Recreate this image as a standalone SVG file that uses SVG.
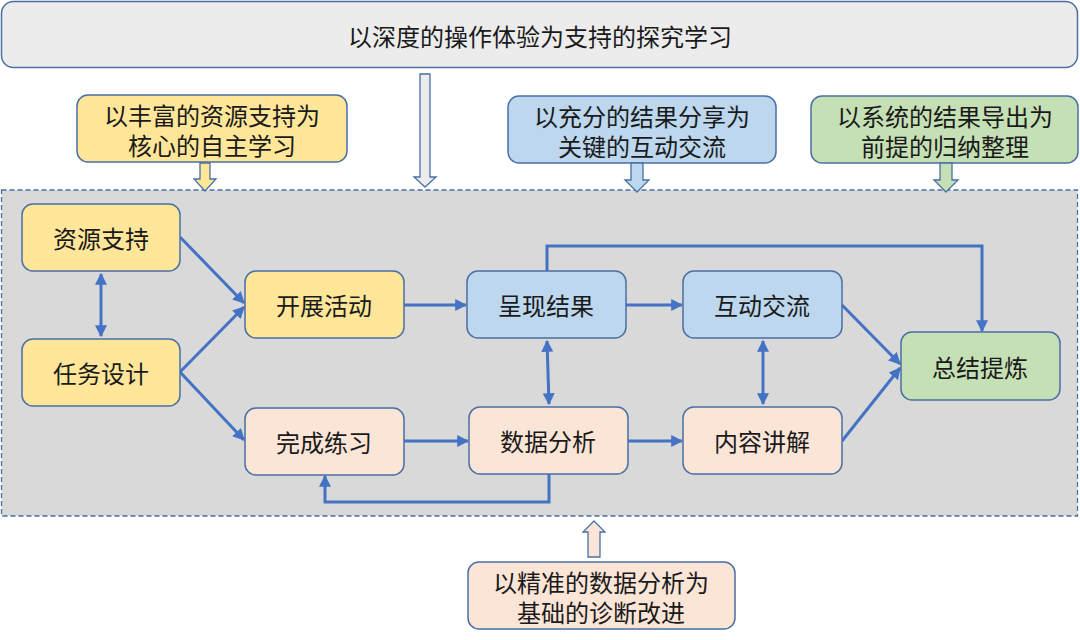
<svg xmlns="http://www.w3.org/2000/svg" width="1080" height="640" viewBox="0 0 1080 640">
<defs>
<style>
text{font-family:"Noto Sans CJK SC","Noto Sans",sans-serif;font-size:24px;fill:#1a1a1a;text-anchor:middle;dominant-baseline:central}
.box{stroke:#4a6fa5;stroke-width:1.5}
.y{fill:#ffe699}.b{fill:#bdd7ee}.p{fill:#fbe5d6}.g{fill:#c5e0b4}
.c{fill:none;stroke:#4472c4;stroke-width:3}
.blk{stroke:#4a6fa5;stroke-width:1.3}
</style>
<marker id="ah" viewBox="0 0 10 10" refX="9" refY="5" markerWidth="4" markerHeight="4" orient="auto-start-reverse" markerUnits="strokeWidth">
<path d="M0,0 L10,5 L0,10 z" fill="#4472c4"/>
</marker>
</defs>
<rect width="1080" height="640" fill="#ffffff"/>
<g id="banner">
<rect x="1.5" y="1.5" width="1076" height="66" rx="12" fill="#ececec" class="box"/>
<text x="540" y="35">以深度的操作体验为支持的探究学习</text>
</g>
<g id="container">
<rect x="1.5" y="190" width="1076" height="326" fill="#d9d9d9" stroke="#4a6fa5" stroke-width="1.3" stroke-dasharray="5,3"/>
</g>
<g id="callout-yellow">
<rect x="77" y="95" width="270" height="67" rx="11" class="box y"/>
<text x="212" y="114">以丰富的资源支持为</text>
<text x="212" y="144">核心的自主学习</text>
<path d="M200,163 H210 V179 H216 L205,191 L194,179 H200 Z" class="blk y"/>
</g>
<g id="arrow-banner">
<path d="M420,74 H430 V177 H436 L425,187 L414,177 H420 Z" fill="#ececec" class="blk"/>
</g>
<g id="callout-blue">
<rect x="508" y="96" width="268" height="67" rx="11" class="box b"/>
<text x="642" y="115">以充分的结果分享为</text>
<text x="642" y="145">关键的互动交流</text>
<path d="M631,163 H643 V180 H649 L637,192 L625,180 H631 Z" class="blk b"/>
</g>
<g id="callout-green">
<rect x="811" y="96" width="267" height="67" rx="11" class="box g"/>
<text x="945" y="115">以系统的结果导出为</text>
<text x="945" y="145">前提的归纳整理</text>
<path d="M940,163 H952 V180 H958 L946,192 L934,180 H940 Z" class="blk g"/>
</g>
<g id="callout-peach">
<rect x="468" y="562" width="267" height="67" rx="11" class="box p"/>
<text x="601" y="581">以精准的数据分析为</text>
<text x="601" y="611">基础的诊断改进</text>
<path d="M588,557 V532 H583 L594,521 L605,532 H600 V557 Z" class="blk p"/>
</g>
<g id="connectors">
<line x1="101" y1="274" x2="101" y2="336" class="c" marker-start="url(#ah)" marker-end="url(#ah)"/>
<line x1="180" y1="237" x2="244" y2="303" class="c" marker-end="url(#ah)"/>
<line x1="180" y1="372" x2="244" y2="307" class="c" marker-end="url(#ah)"/>
<line x1="180" y1="372" x2="244" y2="440" class="c" marker-end="url(#ah)"/>
<line x1="404" y1="305" x2="466" y2="305" class="c" marker-end="url(#ah)"/>
<line x1="404" y1="441" x2="468" y2="441" class="c" marker-end="url(#ah)"/>
<line x1="626" y1="305" x2="682" y2="305" class="c" marker-end="url(#ah)"/>
<line x1="628" y1="441" x2="682" y2="441" class="c" marker-end="url(#ah)"/>
<line x1="547" y1="341" x2="549" y2="404" class="c" marker-start="url(#ah)" marker-end="url(#ah)"/>
<line x1="763" y1="341" x2="763" y2="404" class="c" marker-start="url(#ah)" marker-end="url(#ah)"/>
<line x1="842" y1="305" x2="900" y2="364" class="c" marker-end="url(#ah)"/>
<line x1="842" y1="441" x2="900" y2="368" class="c" marker-end="url(#ah)"/>
<polyline points="547,271 547,246 982,246 982,331" class="c" marker-end="url(#ah)"/>
<polyline points="549,474 549,502 325,502 325,476" class="c" marker-end="url(#ah)"/>
</g>
<g id="n-ziyuan"><rect x="22" y="204" width="158" height="67" rx="11" class="box y"/><text x="101" y="237">资源支持</text></g>
<g id="n-renwu"><rect x="22" y="339" width="158" height="67" rx="11" class="box y"/><text x="101" y="372">任务设计</text></g>
<g id="n-kaizhan"><rect x="245" y="271" width="159" height="67" rx="11" class="box y"/><text x="324" y="304">开展活动</text></g>
<g id="n-wancheng"><rect x="245" y="408" width="159" height="67" rx="11" class="box p"/><text x="324" y="441">完成练习</text></g>
<g id="n-chengxian"><rect x="467" y="271" width="159" height="67" rx="11" class="box b"/><text x="546" y="304">呈现结果</text></g>
<g id="n-shuju"><rect x="469" y="407" width="159" height="67" rx="11" class="box p"/><text x="548" y="440">数据分析</text></g>
<g id="n-hudong"><rect x="683" y="271" width="159" height="67" rx="11" class="box b"/><text x="762" y="304">互动交流</text></g>
<g id="n-neirong"><rect x="683" y="407" width="159" height="67" rx="11" class="box p"/><text x="762" y="440">内容讲解</text></g>
<g id="n-zongjie"><rect x="901" y="332" width="159" height="68" rx="11" class="box g"/><text x="980" y="366">总结提炼</text></g>
</svg>
